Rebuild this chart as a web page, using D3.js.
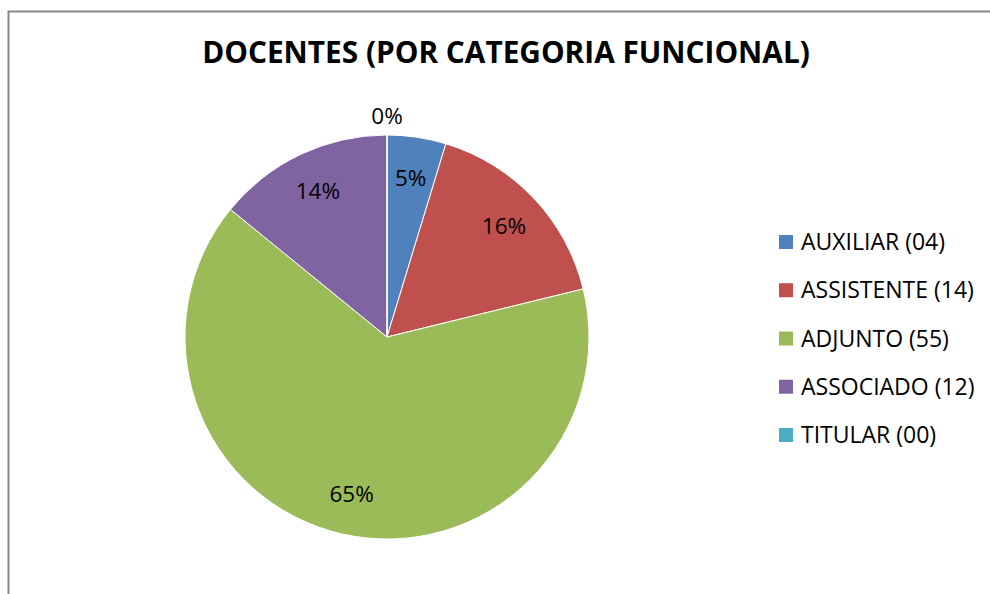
<!DOCTYPE html>
<html>
<head>
<meta charset="utf-8">
<script src="https://cdn.jsdelivr.net/npm/d3@7"></script>
<style>
  body { margin: 0; background: #fff; }
  text { font-family: "Open Sans", "Noto Sans", sans-serif; }
</style>
</head>
<body>
<svg id="chart" width="990" height="594"></svg>
<script>
// data
const categories = ['AUXILIAR (04)', 'ASSISTENTE (14)', 'ADJUNTO (55)', 'ASSOCIADO (12)', 'TITULAR (00)']
const counts = [4, 14, 55, 12, 0]
const colors = ['#4F81BD', '#C0504D', '#9BBB59', '#8064A2', '#4BACC6']
const title = 'DOCENTES (POR CATEGORIA FUNCIONAL)'

const svg = d3.select('#chart')
const cx = 387, cy = 337, radius = 202

// chart frame (right and bottom run past the picture)
svg.append('rect')
  .attr('x', 8.5).attr('y', 11.5)
  .attr('width', 1100).attr('height', 700)
  .attr('fill', 'none')
  .attr('stroke', '#888').attr('stroke-width', 2)

svg.append('text')
  .attr('x', 506).attr('y', 63)
  .attr('text-anchor', 'middle')
  .attr('font-size', 29.8)
  .attr('font-weight', 'bold')
  .text(title)

const total = d3.sum(counts)
const color = d3.scaleOrdinal().domain(categories).range(colors)

const pie = d3.pie().sort(null).value(d => d.value)
const arcs = pie(categories.map((c, i) => ({ name: c, value: counts[i] })))

const arc = d3.arc().innerRadius(0).outerRadius(radius)
const labelArc = d3.arc().innerRadius(161).outerRadius(161)
const outerArc = d3.arc().innerRadius(radius + 19).outerRadius(radius + 19)

const g = svg.append('g').attr('transform', `translate(${cx},${cy})`)

g.selectAll('path')
  .data(arcs)
  .join('path')
  .attr('d', arc)
  .attr('fill', d => color(d.data.name))
  .attr('stroke', '#fff')
  .attr('stroke-width', 1)

g.selectAll('text.lbl')
  .data(arcs)
  .join('text')
  .attr('class', 'lbl')
  .attr('transform', d => {
    const p = d.data.value === 0 ? outerArc.centroid(d) : labelArc.centroid(d)
    return `translate(${p[0]},${p[1]})`
  })
  .attr('text-anchor', 'middle')
  .attr('dy', '0.35em')
  .attr('font-size', 22.5)
  .attr('fill', '#000')
  .text(d => Math.round(d.data.value / total * 100) + '%')

// legend
const legendY = d3.scalePoint().domain(categories).range([242, 435])
const legend = svg.append('g')
  .selectAll('g')
  .data(categories)
  .join('g')
  .attr('transform', d => `translate(779,${legendY(d)})`)

legend.append('rect')
  .attr('x', 0).attr('y', -7)
  .attr('width', 14).attr('height', 14)
  .attr('fill', d => color(d))

legend.append('text')
  .attr('x', 22).attr('dy', '0.35em')
  .attr('font-size', 23)
  .text(d => d)
</script>
</body>
</html>
